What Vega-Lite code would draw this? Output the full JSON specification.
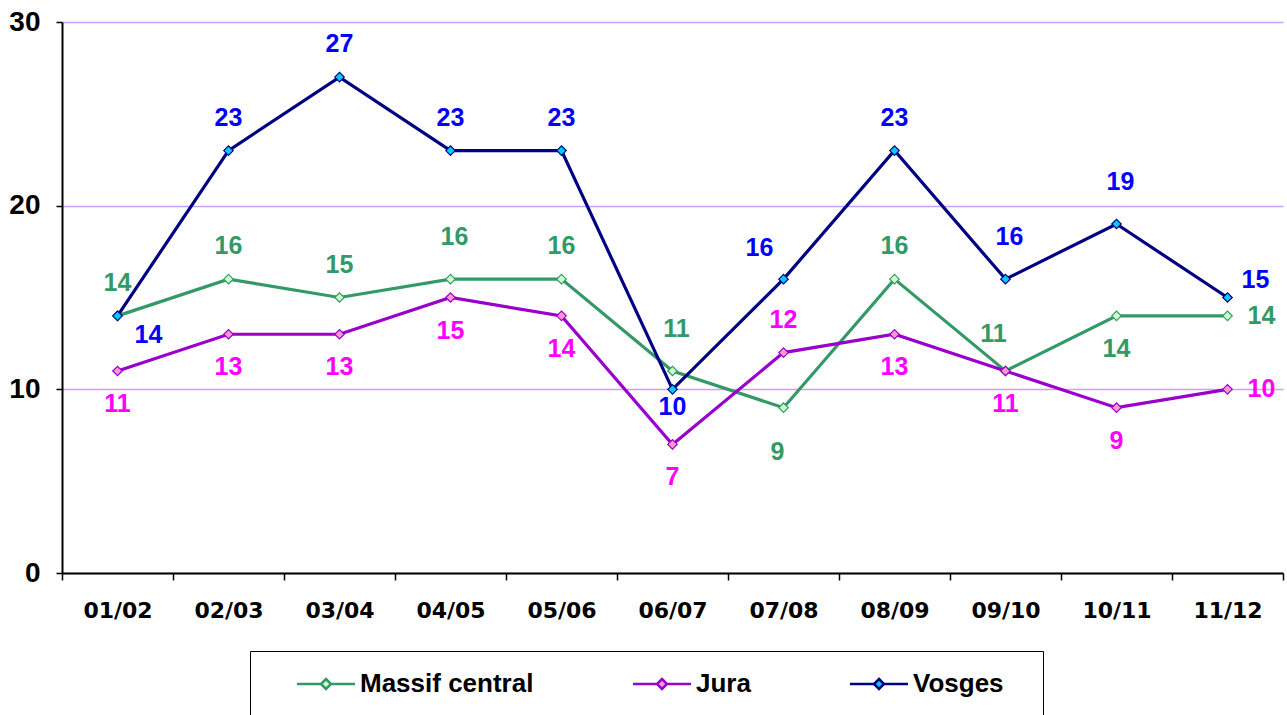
{
  "$schema": "https://vega.github.io/schema/vega-lite/v6.json",
  "width": 1221,
  "height": 551,
  "autosize": {"type": "none"},
  "padding": {"left": 62, "top": 22, "right": 4, "bottom": 142},
  "background": "white",
  "config": {"view": {"stroke": null}},
  "data": {"values": [
    {"season": "01/02", "series": "Massif central", "value": 14},
    {"season": "02/03", "series": "Massif central", "value": 16},
    {"season": "03/04", "series": "Massif central", "value": 15},
    {"season": "04/05", "series": "Massif central", "value": 16},
    {"season": "05/06", "series": "Massif central", "value": 16},
    {"season": "06/07", "series": "Massif central", "value": 11},
    {"season": "07/08", "series": "Massif central", "value": 9},
    {"season": "08/09", "series": "Massif central", "value": 16},
    {"season": "09/10", "series": "Massif central", "value": 11},
    {"season": "10/11", "series": "Massif central", "value": 14},
    {"season": "11/12", "series": "Massif central", "value": 14},
    {"season": "01/02", "series": "Jura", "value": 11},
    {"season": "02/03", "series": "Jura", "value": 13},
    {"season": "03/04", "series": "Jura", "value": 13},
    {"season": "04/05", "series": "Jura", "value": 15},
    {"season": "05/06", "series": "Jura", "value": 14},
    {"season": "06/07", "series": "Jura", "value": 7},
    {"season": "07/08", "series": "Jura", "value": 12},
    {"season": "08/09", "series": "Jura", "value": 13},
    {"season": "09/10", "series": "Jura", "value": 11},
    {"season": "10/11", "series": "Jura", "value": 9},
    {"season": "11/12", "series": "Jura", "value": 10},
    {"season": "01/02", "series": "Vosges", "value": 14},
    {"season": "02/03", "series": "Vosges", "value": 23},
    {"season": "03/04", "series": "Vosges", "value": 27},
    {"season": "04/05", "series": "Vosges", "value": 23},
    {"season": "05/06", "series": "Vosges", "value": 23},
    {"season": "06/07", "series": "Vosges", "value": 10},
    {"season": "07/08", "series": "Vosges", "value": 16},
    {"season": "08/09", "series": "Vosges", "value": 23},
    {"season": "09/10", "series": "Vosges", "value": 16},
    {"season": "10/11", "series": "Vosges", "value": 19},
    {"season": "11/12", "series": "Vosges", "value": 15}
  ]},
  "encoding": {
    "x": {
      "field": "season", "type": "nominal", "sort": null,
      "scale": {"type": "band", "paddingInner": 0, "paddingOuter": 0},
      "axis": {
        "title": null, "labelAngle": 0, "tickBand": "extent",
        "domainColor": "#000000", "domainWidth": 2,
        "tickColor": "#000000", "tickWidth": 1.5, "tickSize": 7,
        "labelFont": "DejaVu Sans", "labelFontWeight": "bold", "labelFontSize": 22,
        "labelColor": "#000000", "labelPadding": 20
      }
    },
    "y": {
      "field": "value", "type": "quantitative",
      "scale": {"domain": [0, 30], "nice": false},
      "axis": {
        "title": null, "values": [0, 10, 20, 30],
        "grid": true, "gridColor": "#c9a0ff", "gridWidth": 1.5,
        "domainColor": "#000000", "domainWidth": 2,
        "tickColor": "#000000", "tickWidth": 1.5, "tickSize": 6,
        "labelFont": "Liberation Sans", "labelFontWeight": "bold", "labelFontSize": 28,
        "labelColor": "#000000", "labelPadding": 16
      }
    }
  },
  "layer": [
    {
      "mark": {"type": "line", "strokeWidth": 3.2},
      "encoding": {
        "stroke": {
          "field": "series", "type": "nominal",
          "scale": {"domain": ["Massif central", "Jura", "Vosges"], "range": ["#339966", "#9900cc", "#000080"]},
          "legend": {
            "title": ".", "titleOrient": "right", "titlePadding": 11, "titleFontSize": 26, "titleColor": "#ffffff",
            "orient": "none", "legendX": 188, "legendY": 629,
            "direction": "horizontal",
            "strokeColor": "#000000", "fillColor": "#ffffff", "padding": 20,
            "labelFont": "Liberation Sans", "labelFontWeight": "bold", "labelFontSize": 26,
            "labelColor": "#000000", "labelOffset": 64, "columnPadding": 70, "labelLimit": 400,
            "symbolSize": 400, "symbolStrokeWidth": 2.5,
            "symbolType": "M-1,0L-1,0M1.4,0L3.8,0M4.8,0L7.2,0M4.3,-0.5L4.8,0L4.3,0.5L3.8,0Z",
            "encode": {
              "symbols": {
                "update": {
                  "shape": {"value": "M-1,0L-1,0M1.4,0L3.8,0M4.8,0L7.2,0M4.3,-0.5L4.8,0L4.3,0.5L3.8,0Z"},
                  "size": {"value": 400},
                  "fill": {"value": {"expr": "scale('fill', datum.value)"}},
                  "stroke": {"value": {"expr": "scale('stroke', datum.value)"}},
                  "strokeWidth": {"value": 2.5},
                  "opacity": {"value": 1}
                }
              }
            }
          }
        }
      }
    },
    {
      "mark": {"type": "point", "shape": "diamond", "size": 90, "filled": true, "strokeWidth": 1.2, "opacity": 1},
      "encoding": {
        "fill": {
          "field": "series", "type": "nominal",
          "scale": {"domain": ["Massif central", "Jura", "Vosges"], "range": ["#ccffcc", "#ff99cc", "#00ccff"]},
          "legend": null
        },
        "stroke": {"field": "series", "type": "nominal"}
      }
    },
    {
      "transform": [{"filter": "(datum.series=='Massif central' && indexof(['01/02','02/03','03/04','05/06','08/09'], datum.season)>=0) || (datum.series=='Jura' && datum.season=='07/08') || (datum.series=='Vosges' && indexof(['02/03','03/04','04/05','05/06','08/09'], datum.season)>=0)"}],
      "mark": {"type": "text", "font": "Liberation Sans", "fontWeight": "bold", "fontSize": 25, "baseline": "middle", "align": "center", "dy": -33},
      "encoding": {
        "text": {"field": "value", "type": "quantitative"},
        "color": {"field": "series", "type": "nominal", "scale": {"domain": ["Massif central", "Jura", "Vosges"], "range": ["#339966", "#ff00ff", "#0000ff"]}, "legend": null}
      }
    },
    {
      "transform": [{"filter": "(datum.series=='Massif central' && indexof(['04/05','06/07'], datum.season)>=0) || (datum.series=='Vosges' && indexof(['09/10','10/11'], datum.season)>=0)"}],
      "mark": {"type": "text", "font": "Liberation Sans", "fontWeight": "bold", "fontSize": 25, "baseline": "middle", "align": "center", "dy": -42, "dx": 4},
      "encoding": {
        "text": {"field": "value", "type": "quantitative"},
        "color": {"field": "series", "type": "nominal", "legend": null}
      }
    },
    {
      "transform": [{"filter": "datum.series=='Massif central' && datum.season=='09/10'"}],
      "mark": {"type": "text", "font": "Liberation Sans", "fontWeight": "bold", "fontSize": 25, "baseline": "middle", "align": "center", "dy": -37, "dx": -12},
      "encoding": {
        "text": {"field": "value", "type": "quantitative"},
        "color": {"field": "series", "type": "nominal", "legend": null}
      }
    },
    {
      "transform": [{"filter": "datum.series=='Vosges' && datum.season=='07/08'"}],
      "mark": {"type": "text", "font": "Liberation Sans", "fontWeight": "bold", "fontSize": 25, "baseline": "middle", "align": "center", "dy": -31, "dx": -24},
      "encoding": {
        "text": {"field": "value", "type": "quantitative"},
        "color": {"field": "series", "type": "nominal", "legend": null}
      }
    },
    {
      "transform": [{"filter": "(datum.series=='Jura' && indexof(['07/08','11/12'], datum.season)<0) || (datum.series=='Massif central' && datum.season=='10/11')"}],
      "mark": {"type": "text", "font": "Liberation Sans", "fontWeight": "bold", "fontSize": 25, "baseline": "middle", "align": "center", "dy": 33},
      "encoding": {
        "text": {"field": "value", "type": "quantitative"},
        "color": {"field": "series", "type": "nominal", "legend": null}
      }
    },
    {
      "transform": [{"filter": "datum.series=='Massif central' && datum.season=='07/08'"}],
      "mark": {"type": "text", "font": "Liberation Sans", "fontWeight": "bold", "fontSize": 25, "baseline": "middle", "align": "center", "dy": 44, "dx": -6},
      "encoding": {
        "text": {"field": "value", "type": "quantitative"},
        "color": {"field": "series", "type": "nominal", "legend": null}
      }
    },
    {
      "transform": [{"filter": "datum.series=='Vosges' && datum.season=='06/07'"}],
      "mark": {"type": "text", "font": "Liberation Sans", "fontWeight": "bold", "fontSize": 25, "baseline": "middle", "align": "center", "dy": 18},
      "encoding": {
        "text": {"field": "value", "type": "quantitative"},
        "color": {"field": "series", "type": "nominal", "legend": null}
      }
    },
    {
      "transform": [{"filter": "datum.series!='Vosges' && datum.season=='11/12'"}],
      "mark": {"type": "text", "font": "Liberation Sans", "fontWeight": "bold", "fontSize": 25, "baseline": "middle", "align": "center", "dx": 34},
      "encoding": {
        "text": {"field": "value", "type": "quantitative"},
        "color": {"field": "series", "type": "nominal", "legend": null}
      }
    },
    {
      "transform": [{"filter": "datum.series=='Vosges' && datum.season=='01/02'"}],
      "mark": {"type": "text", "font": "Liberation Sans", "fontWeight": "bold", "fontSize": 25, "baseline": "middle", "align": "center", "dx": 31, "dy": 19},
      "encoding": {
        "text": {"field": "value", "type": "quantitative"},
        "color": {"field": "series", "type": "nominal", "legend": null}
      }
    },
    {
      "transform": [{"filter": "datum.series=='Vosges' && datum.season=='11/12'"}],
      "mark": {"type": "text", "font": "Liberation Sans", "fontWeight": "bold", "fontSize": 25, "baseline": "middle", "align": "center", "dx": 28, "dy": -18},
      "encoding": {
        "text": {"field": "value", "type": "quantitative"},
        "color": {"field": "series", "type": "nominal", "legend": null}
      }
    }
  ]
}
